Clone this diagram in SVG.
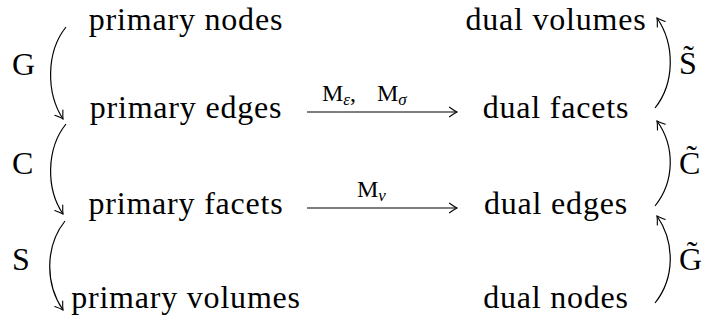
<svg xmlns="http://www.w3.org/2000/svg" width="709" height="326" viewBox="0 0 709 326">
<style>
.c{fill:none;stroke:#000;stroke-width:1.2}
</style>
<defs>
<marker id="ah" viewBox="-9 -6 11 12" markerWidth="11" markerHeight="12" markerUnits="userSpaceOnUse" refX="0" refY="0" orient="auto">
<path d="M-7.5,-4.8 Q-2.5,-1.2 0,0 Q-2.5,1.2 -7.5,4.8" fill="none" stroke="#000" stroke-width="1.1" stroke-linecap="round"/>
</marker>
</defs>
<rect width="709" height="326" fill="#fff"/>
<g font-family="Liberation Serif" font-size="32" fill="#000" text-anchor="middle" letter-spacing="0.8">
<g id="primary-nodes"><text x="186" y="30">primary nodes</text></g>
<g id="primary-edges"><text x="186" y="118">primary edges</text></g>
<g id="primary-facets"><text x="186" y="214">primary facets</text></g>
<g id="primary-volumes"><text x="186" y="308">primary volumes</text></g>
<g id="dual-volumes"><text x="556" y="30">dual volumes</text></g>
<g id="dual-facets"><text x="556" y="118">dual facets</text></g>
<g id="dual-edges"><text x="556" y="214">dual edges</text></g>
<g id="dual-nodes"><text x="556" y="308">dual nodes</text></g>
</g>
<g id="connectors">
<path class="c" d="M66,27 C46,52 46,93 63,119" marker-end="url(#ah)"/>
<path class="c" d="M66,124 C46,149 46,189 63,214" marker-end="url(#ah)"/>
<path class="c" d="M65,221 C45,246 45,284 63,310" marker-end="url(#ah)"/>
<path class="c" d="M655,108 C675,83 675,44 657,18" marker-end="url(#ah)"/>
<path class="c" d="M655,206 C675,181 675,146 657,121" marker-end="url(#ah)"/>
<path class="c" d="M655,303 C675,278 675,242 657,216" marker-end="url(#ah)"/>
<path class="c" d="M307,112 H457" marker-end="url(#ah)"/>
<path class="c" d="M307,208 H457" marker-end="url(#ah)"/>
</g>
<g id="labels" font-family="Liberation Serif" font-size="32" fill="#000">
<text x="12" y="75">G</text>
<text x="12" y="174">C</text>
<text x="12" y="270">S</text>
<text x="679" y="74">S̃</text>
<text x="679" y="174">C̃</text>
<text x="679" y="270">G̃</text>
<text font-size="24" x="322" y="101">M<tspan font-size="17" font-style="italic" dy="4">ε</tspan><tspan dy="-4">, </tspan><tspan x="377">M</tspan><tspan font-size="17" font-style="italic" dy="4">σ</tspan></text>
<text font-size="24" x="357" y="197">M<tspan font-size="17" font-style="italic" dy="4">ν</tspan></text>
</g>
</svg>
